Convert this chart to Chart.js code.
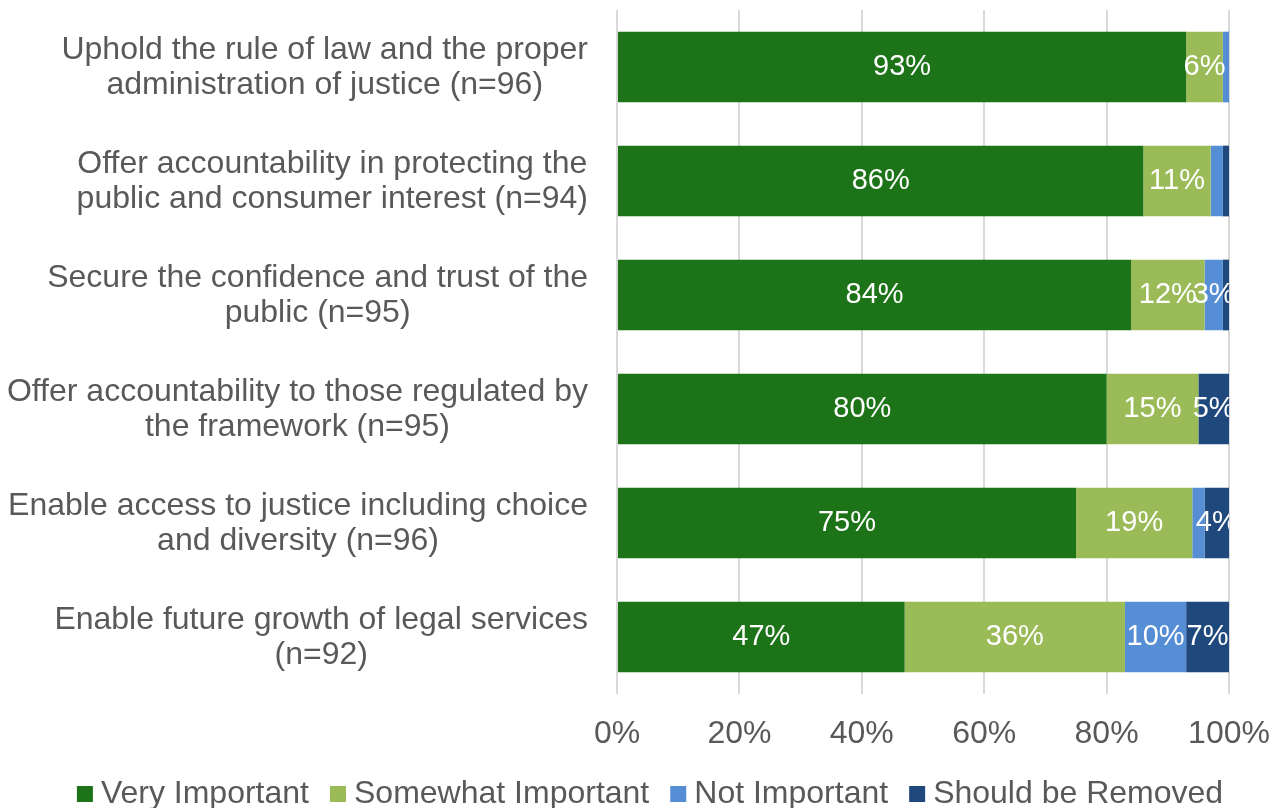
<!DOCTYPE html>
<html>
<head>
<meta charset="utf-8">
<script src="https://cdn.jsdelivr.net/npm/chart.js@4"></script>
<style>
  html, body { margin: 0; padding: 0; background: #fff; }
  #wrap { width: 1283px; height: 808px; }
</style>
</head>
<body>
<div id="wrap"><canvas id="importanceChart" width="1283" height="808"></canvas></div>
<script>
const categories = [
    ['Uphold the rule of law and the proper', 'administration of justice (n=96)'],
    ['Offer accountability in protecting the', 'public and consumer interest (n=94)'],
    ['Secure the confidence and trust of the', 'public (n=95)'],
    ['Offer accountability to those regulated by', 'the framework (n=95)'],
    ['Enable access to justice including choice', 'and diversity (n=96)'],
    ['Enable future growth of legal services', '(n=92)']
]
const veryImportant = [93, 86, 84, 80, 75, 47]
const somewhatImportant = [6, 11, 12, 15, 19, 36]
const notImportant = [1, 2, 3, 0, 2, 10]
const shouldBeRemoved = [0, 1, 1, 5, 4, 7]
const tickLabels = ['0%', '20%', '40%', '60%', '80%', '100%']

const FONT = 'Liberation Sans, Arial, sans-serif'
const TEXT_GREY = '#595959'

// #### Plugins
// category labels: block right aligned next to the axis, each line centred inside its block
const categoryLabels = {
    id: 'categoryLabels',
    afterDraw(chart) {
        const ctx = chart.ctx
        const yScale = chart.scales.y
        const lineHeight = 35
        ctx.save()
        ctx.font = '32px ' + FONT
        ctx.fillStyle = TEXT_GREY
        ctx.textAlign = 'center'
        ctx.textBaseline = 'middle'
        categories.forEach((lines, i) => {
            const blockWidth = Math.max(...lines.map(l => ctx.measureText(l).width))
            const cx = 588 - blockWidth / 2
            const cy = yScale.getPixelForValue(i) + 1
            const top = cy - (lines.length - 1) * lineHeight / 2
            lines.forEach((line, j) => ctx.fillText(line, cx, top + j * lineHeight))
        })
        ctx.restore()
    }
}

// value labels inside the bars, clipped to the plot area
const valueLabels = {
    id: 'valueLabels',
    afterDatasetsDraw(chart) {
        const ctx = chart.ctx
        const area = chart.chartArea
        ctx.save()
        ctx.beginPath()
        ctx.rect(area.left, area.top, area.right - area.left, area.bottom - area.top)
        ctx.clip()
        ctx.font = '29px ' + FONT
        ctx.fillStyle = '#ffffff'
        ctx.textAlign = 'center'
        ctx.textBaseline = 'middle'
        chart.data.datasets.forEach((ds, d) => {
            const meta = chart.getDatasetMeta(d)
            meta.data.forEach((bar, i) => {
                const value = ds.data[i]
                if (value < 3) return
                const { x, base, y } = bar.getProps(['x', 'base', 'y'], true)
                ctx.fillText(value + '%', (x + base) / 2, y)
            })
        })
        ctx.restore()
    }
}

// #### Chart
const chartElement = document.getElementById('importanceChart').getContext('2d')

const importanceChart = new Chart(chartElement, {
    type: 'bar',
    data: {
        labels: categories.map(c => c.join(' ')),
        datasets: [
            { label: 'Very Important', data: veryImportant, backgroundColor: '#1D7317' },
            { label: 'Somewhat Important', data: somewhatImportant, backgroundColor: '#9BBB59' },
            { label: 'Not Important', data: notImportant, backgroundColor: '#558ED5' },
            { label: 'Should be Removed', data: shouldBeRemoved, backgroundColor: '#1F497D' }
        ]
    },
    options: {
        indexAxis: 'y',
        responsive: false,
        animation: false,
        layout: { padding: { top: 10, right: 0, left: 25, bottom: 0 } },
        datasets: {
            bar: { categoryPercentage: 1, barPercentage: 0.62, borderWidth: 0 }
        },
        scales: {
            x: {
                stacked: true,
                min: 0,
                max: 100,
                ticks: {
                    stepSize: 20,
                    color: TEXT_GREY,
                    font: { family: FONT, size: 32 },
                    padding: 8,
                    maxRotation: 0,
                    callback: (value, index) => tickLabels[index]
                },
                // invisible tick marks push the labels down without widening the side padding
                grid: { color: '#D9D9D9', lineWidth: 2, drawTicks: true, tickLength: 13, tickColor: 'rgba(0,0,0,0)' },
                border: { display: false },
                afterFit: scale => { scale.height = 55 }
            },
            y: {
                stacked: true,
                ticks: { display: false },
                grid: { display: false },
                border: { display: false },
                afterFit: scale => { scale.width = 592 }
            },
            // empty strip on the right so the last tick label has room
            yRight: {
                type: 'linear',
                position: 'right',
                ticks: { display: false },
                grid: { display: false },
                border: { display: false },
                afterFit: scale => { scale.width = 54 }
            }
        },
        plugins: {
            legend: {
                position: 'bottom',
                maxHeight: 59,
                labels: {
                    color: TEXT_GREY,
                    font: { family: FONT, size: 32 },
                    usePointStyle: true,
                    pointStyle: 'rect',
                    boxWidth: 0.01,
                    boxHeight: 16,
                    padding: 29
                }
            },
            tooltip: { enabled: false }
        }
    },
    plugins: [categoryLabels, valueLabels]
})
</script>
</body>
</html>
